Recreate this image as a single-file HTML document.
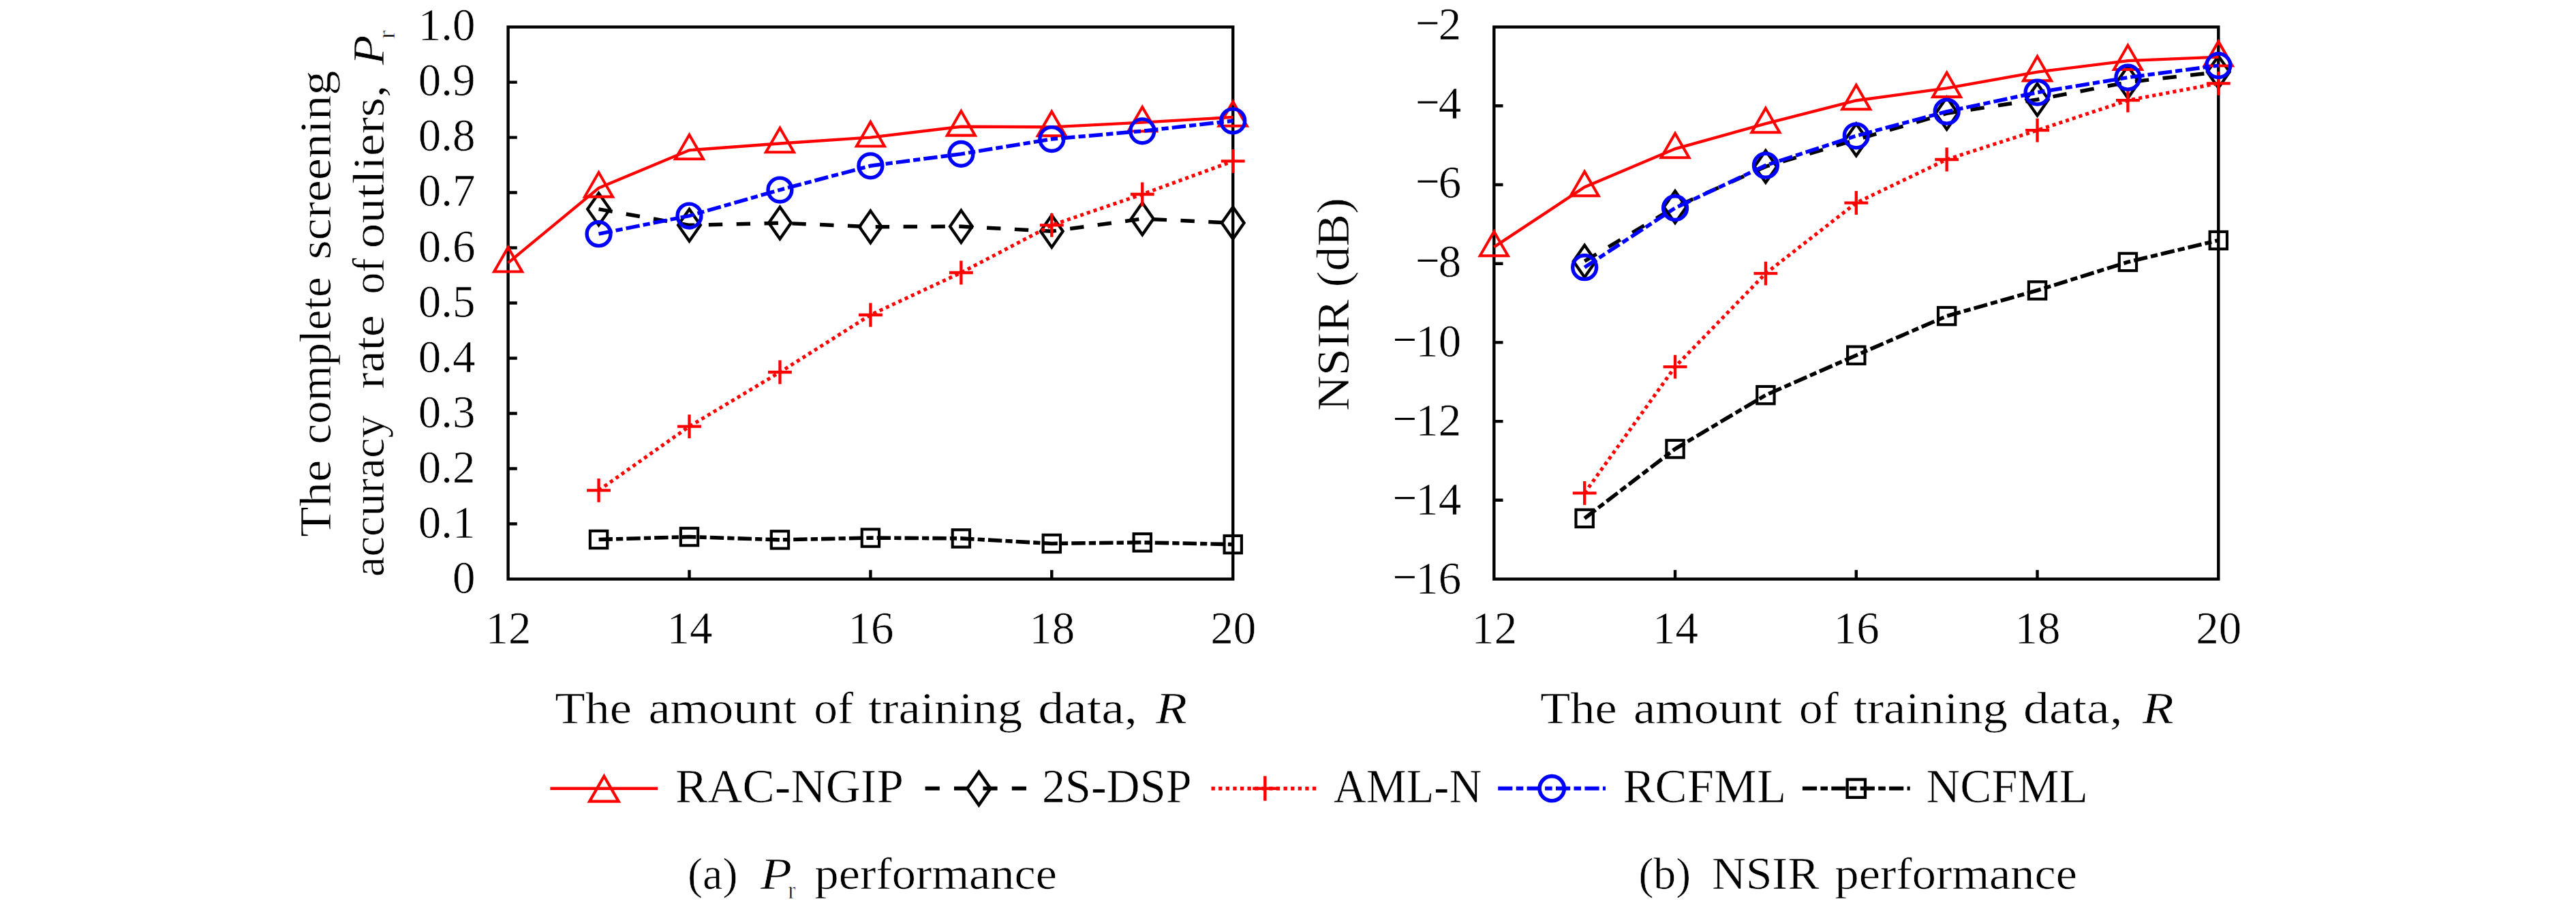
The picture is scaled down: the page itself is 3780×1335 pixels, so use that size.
<!DOCTYPE html>
<html><head><meta charset="utf-8"><title>figure</title>
<style>html,body{margin:0;padding:0;background:#fff}svg{display:block}text{font-family:"Liberation Serif",serif;fill:#000;stroke:#fff;stroke-width:0.6px}</style>
</head><body>
<svg width="3780" height="1335" viewBox="0 0 3780 1335">
<rect width="3780" height="1335" fill="#fff"/>
<rect x="745.6" y="39.6" width="1063.6" height="809.9" fill="none" stroke="#000" stroke-width="4.4"/>
<path d="M1011.5 849.5V836.3M1277.4 849.5V836.3M1543.3 849.5V836.3M745.6 768.51H758.8M745.6 687.52H758.8M745.6 606.53H758.8M745.6 525.54H758.8M745.6 444.55H758.8M745.6 363.56H758.8M745.6 282.57H758.8M745.6 201.58H758.8M745.6 120.59H758.8" stroke="#000" stroke-width="4.4" fill="none"/>
<path d="M878.55 306.87L1011.5 330.35L1144.45 327.11L1277.4 332.78L1410.35 332.22L1543.3 339.26L1676.25 320.96L1809.2 327.11" fill="none" stroke="#000000" stroke-width="5.49" stroke-dasharray="20.42 20.42" stroke-linejoin="miter"/>
<polygon points="878.55,283.47 894.92,306.87 878.55,330.27 862.18,306.87" fill="none" stroke="#000000" stroke-width="4.33" stroke-linejoin="miter" stroke-miterlimit="10"/>
<polygon points="1011.5,306.95 1027.87,330.35 1011.5,353.75 995.13,330.35" fill="none" stroke="#000000" stroke-width="4.33" stroke-linejoin="miter" stroke-miterlimit="10"/>
<polygon points="1144.45,303.71 1160.82,327.11 1144.45,350.52 1128.08,327.11" fill="none" stroke="#000000" stroke-width="4.33" stroke-linejoin="miter" stroke-miterlimit="10"/>
<polygon points="1277.4,309.38 1293.77,332.78 1277.4,356.18 1261.03,332.78" fill="none" stroke="#000000" stroke-width="4.33" stroke-linejoin="miter" stroke-miterlimit="10"/>
<polygon points="1410.35,308.82 1426.72,332.22 1410.35,355.62 1393.98,332.22" fill="none" stroke="#000000" stroke-width="4.33" stroke-linejoin="miter" stroke-miterlimit="10"/>
<polygon points="1543.3,315.86 1559.67,339.26 1543.3,362.66 1526.93,339.26" fill="none" stroke="#000000" stroke-width="4.33" stroke-linejoin="miter" stroke-miterlimit="10"/>
<polygon points="1676.25,297.56 1692.62,320.96 1676.25,344.36 1659.88,320.96" fill="none" stroke="#000000" stroke-width="4.33" stroke-linejoin="miter" stroke-miterlimit="10"/>
<polygon points="1809.2,303.71 1825.57,327.11 1809.2,350.52 1792.83,327.11" fill="none" stroke="#000000" stroke-width="4.33" stroke-linejoin="miter" stroke-miterlimit="10"/>
<path d="M745.6 385.59L878.55 275.77L1011.5 220.37L1144.45 210.49L1277.4 201.58L1410.35 185.79L1543.3 186.35L1676.25 179.71L1809.2 171.94" fill="none" stroke="#ff0000" stroke-width="4.33" stroke-linejoin="miter"/>
<polygon points="745.6,362.9 766.12,398.43 725.08,398.43" fill="none" stroke="#ff0000" stroke-width="4.04" stroke-linejoin="miter" stroke-miterlimit="10"/>
<polygon points="878.55,253.08 899.07,288.61 858.03,288.61" fill="none" stroke="#ff0000" stroke-width="4.04" stroke-linejoin="miter" stroke-miterlimit="10"/>
<polygon points="1011.5,197.68 1032.02,233.21 990.98,233.21" fill="none" stroke="#ff0000" stroke-width="4.04" stroke-linejoin="miter" stroke-miterlimit="10"/>
<polygon points="1144.45,187.8 1164.97,223.33 1123.93,223.33" fill="none" stroke="#ff0000" stroke-width="4.04" stroke-linejoin="miter" stroke-miterlimit="10"/>
<polygon points="1277.4,178.89 1297.92,214.42 1256.88,214.42" fill="none" stroke="#ff0000" stroke-width="4.04" stroke-linejoin="miter" stroke-miterlimit="10"/>
<polygon points="1410.35,163.1 1430.87,198.63 1389.83,198.63" fill="none" stroke="#ff0000" stroke-width="4.04" stroke-linejoin="miter" stroke-miterlimit="10"/>
<polygon points="1543.3,163.66 1563.82,199.2 1522.78,199.2" fill="none" stroke="#ff0000" stroke-width="4.04" stroke-linejoin="miter" stroke-miterlimit="10"/>
<polygon points="1676.25,157.02 1696.77,192.56 1655.73,192.56" fill="none" stroke="#ff0000" stroke-width="4.04" stroke-linejoin="miter" stroke-miterlimit="10"/>
<polygon points="1809.2,149.25 1829.72,184.78 1788.68,184.78" fill="none" stroke="#ff0000" stroke-width="4.04" stroke-linejoin="miter" stroke-miterlimit="10"/>
<path d="M878.55 719.35L1011.5 625.56L1144.45 546.03L1277.4 461.96L1410.35 400.01L1543.3 330.35L1676.25 285L1809.2 236.41" fill="none" stroke="#ff0000" stroke-width="5.2" stroke-dasharray="5.1 5.1" stroke-linejoin="miter"/>
<path d="M861.12 719.35H895.98M878.55 701.92V736.78" fill="none" stroke="#ff0000" stroke-width="4.33"/>
<path d="M994.07 625.56H1028.93M1011.5 608.13V642.99" fill="none" stroke="#ff0000" stroke-width="4.33"/>
<path d="M1127.02 546.03H1161.88M1144.45 528.6V563.46" fill="none" stroke="#ff0000" stroke-width="4.33"/>
<path d="M1259.97 461.96H1294.83M1277.4 444.53V479.39" fill="none" stroke="#ff0000" stroke-width="4.33"/>
<path d="M1392.92 400.01H1427.78M1410.35 382.58V417.44" fill="none" stroke="#ff0000" stroke-width="4.33"/>
<path d="M1525.87 330.35H1560.73M1543.3 312.92V347.78" fill="none" stroke="#ff0000" stroke-width="4.33"/>
<path d="M1658.82 285H1693.68M1676.25 267.57V302.43" fill="none" stroke="#ff0000" stroke-width="4.33"/>
<path d="M1791.77 236.41H1826.63M1809.2 218.98V253.84" fill="none" stroke="#ff0000" stroke-width="4.33"/>
<path d="M878.55 343.15L1011.5 316.59L1144.45 278.52L1277.4 243.29L1410.35 225.88L1543.3 204.01L1676.25 192.27L1809.2 177.28" fill="none" stroke="#0000ff" stroke-width="5.49" stroke-dasharray="20.42 5.1 10.21 5.1" stroke-linejoin="miter"/>
<circle cx="878.55" cy="343.15" r="17.43" fill="none" stroke="#0000ff" stroke-width="5.39"/>
<circle cx="1011.5" cy="316.59" r="17.43" fill="none" stroke="#0000ff" stroke-width="5.39"/>
<circle cx="1144.45" cy="278.52" r="17.43" fill="none" stroke="#0000ff" stroke-width="5.39"/>
<circle cx="1277.4" cy="243.29" r="17.43" fill="none" stroke="#0000ff" stroke-width="5.39"/>
<circle cx="1410.35" cy="225.88" r="17.43" fill="none" stroke="#0000ff" stroke-width="5.39"/>
<circle cx="1543.3" cy="204.01" r="17.43" fill="none" stroke="#0000ff" stroke-width="5.39"/>
<circle cx="1676.25" cy="192.27" r="17.43" fill="none" stroke="#0000ff" stroke-width="5.39"/>
<circle cx="1809.2" cy="177.28" r="17.43" fill="none" stroke="#0000ff" stroke-width="5.39"/>
<path d="M878.55 791.51L1011.5 787.54L1144.45 791.92L1277.4 789.08L1410.35 789.89L1543.3 797.42L1676.25 795.8L1809.2 798.64" fill="none" stroke="#000000" stroke-width="5.59" stroke-dasharray="20.42 5.1 10.21 5.1" stroke-linejoin="miter"/>
<rect x="865.89" y="778.85" width="25.33" height="25.33" fill="none" stroke="#000000" stroke-width="4.14"/>
<rect x="998.84" y="774.88" width="25.33" height="25.33" fill="none" stroke="#000000" stroke-width="4.14"/>
<rect x="1131.79" y="779.25" width="25.33" height="25.33" fill="none" stroke="#000000" stroke-width="4.14"/>
<rect x="1264.74" y="776.42" width="25.33" height="25.33" fill="none" stroke="#000000" stroke-width="4.14"/>
<rect x="1397.69" y="777.23" width="25.33" height="25.33" fill="none" stroke="#000000" stroke-width="4.14"/>
<rect x="1530.64" y="784.76" width="25.33" height="25.33" fill="none" stroke="#000000" stroke-width="4.14"/>
<rect x="1663.59" y="783.14" width="25.33" height="25.33" fill="none" stroke="#000000" stroke-width="4.14"/>
<rect x="1796.54" y="785.97" width="25.33" height="25.33" fill="none" stroke="#000000" stroke-width="4.14"/>
<rect x="2192.3" y="39.6" width="1063" height="809.9" fill="none" stroke="#000" stroke-width="4.4"/>
<path d="M2458.05 849.5V836.3M2723.8 849.5V836.3M2989.55 849.5V836.3M2192.3 733.8H2205.5M2192.3 618.1H2205.5M2192.3 502.4H2205.5M2192.3 386.7H2205.5M2192.3 271H2205.5M2192.3 155.3H2205.5" stroke="#000" stroke-width="4.4" fill="none"/>
<path d="M2325.18 383.23L2458.05 303.69L2590.93 244.39L2723.8 205.05L2856.68 166.29L2989.55 146.04L3122.43 120.59L3255.3 105.55" fill="none" stroke="#000000" stroke-width="5.49" stroke-dasharray="20.42 20.42" stroke-linejoin="miter"/>
<polygon points="2325.18,359.83 2341.55,383.23 2325.18,406.63 2308.8,383.23" fill="none" stroke="#000000" stroke-width="4.33" stroke-linejoin="miter" stroke-miterlimit="10"/>
<polygon points="2458.05,280.28 2474.42,303.69 2458.05,327.09 2441.68,303.69" fill="none" stroke="#000000" stroke-width="4.33" stroke-linejoin="miter" stroke-miterlimit="10"/>
<polygon points="2590.93,220.99 2607.3,244.39 2590.93,267.79 2574.55,244.39" fill="none" stroke="#000000" stroke-width="4.33" stroke-linejoin="miter" stroke-miterlimit="10"/>
<polygon points="2723.8,181.65 2740.17,205.05 2723.8,228.45 2707.43,205.05" fill="none" stroke="#000000" stroke-width="4.33" stroke-linejoin="miter" stroke-miterlimit="10"/>
<polygon points="2856.68,142.89 2873.05,166.29 2856.68,189.69 2840.3,166.29" fill="none" stroke="#000000" stroke-width="4.33" stroke-linejoin="miter" stroke-miterlimit="10"/>
<polygon points="2989.55,122.64 3005.92,146.04 2989.55,169.44 2973.18,146.04" fill="none" stroke="#000000" stroke-width="4.33" stroke-linejoin="miter" stroke-miterlimit="10"/>
<polygon points="3122.43,97.19 3138.8,120.59 3122.43,143.99 3106.05,120.59" fill="none" stroke="#000000" stroke-width="4.33" stroke-linejoin="miter" stroke-miterlimit="10"/>
<polygon points="3255.3,82.15 3271.67,105.55 3255.3,128.95 3238.93,105.55" fill="none" stroke="#000000" stroke-width="4.33" stroke-linejoin="miter" stroke-miterlimit="10"/>
<path d="M2192.3 362.4L2325.18 274.47L2458.05 218.36L2590.93 181.33L2723.8 147.49L2856.68 129.27L2989.55 105.55L3122.43 89.12L3255.3 83.57" fill="none" stroke="#ff0000" stroke-width="4.33" stroke-linejoin="miter"/>
<polygon points="2192.3,339.71 2212.82,375.25 2171.78,375.25" fill="none" stroke="#ff0000" stroke-width="4.04" stroke-linejoin="miter" stroke-miterlimit="10"/>
<polygon points="2325.18,251.78 2345.69,287.32 2304.66,287.32" fill="none" stroke="#ff0000" stroke-width="4.04" stroke-linejoin="miter" stroke-miterlimit="10"/>
<polygon points="2458.05,195.67 2478.57,231.2 2437.53,231.2" fill="none" stroke="#ff0000" stroke-width="4.04" stroke-linejoin="miter" stroke-miterlimit="10"/>
<polygon points="2590.93,158.64 2611.44,194.18 2570.41,194.18" fill="none" stroke="#ff0000" stroke-width="4.04" stroke-linejoin="miter" stroke-miterlimit="10"/>
<polygon points="2723.8,124.8 2744.32,160.34 2703.28,160.34" fill="none" stroke="#ff0000" stroke-width="4.04" stroke-linejoin="miter" stroke-miterlimit="10"/>
<polygon points="2856.68,106.58 2877.19,142.11 2836.16,142.11" fill="none" stroke="#ff0000" stroke-width="4.04" stroke-linejoin="miter" stroke-miterlimit="10"/>
<polygon points="2989.55,82.86 3010.07,118.39 2969.03,118.39" fill="none" stroke="#ff0000" stroke-width="4.04" stroke-linejoin="miter" stroke-miterlimit="10"/>
<polygon points="3122.43,66.43 3142.94,101.96 3101.91,101.96" fill="none" stroke="#ff0000" stroke-width="4.04" stroke-linejoin="miter" stroke-miterlimit="10"/>
<polygon points="3255.3,60.88 3275.82,96.41 3234.78,96.41" fill="none" stroke="#ff0000" stroke-width="4.04" stroke-linejoin="miter" stroke-miterlimit="10"/>
<path d="M2325.18 723.39L2458.05 538.09L2590.93 401.16L2723.8 297.61L2856.68 233.98L2989.55 191.17L3122.43 147.2L3255.3 122.33" fill="none" stroke="#ff0000" stroke-width="5.2" stroke-dasharray="5.1 5.1" stroke-linejoin="miter"/>
<path d="M2307.74 723.39H2342.61M2325.18 705.96V740.82" fill="none" stroke="#ff0000" stroke-width="4.33"/>
<path d="M2440.62 538.09H2475.48M2458.05 520.66V555.52" fill="none" stroke="#ff0000" stroke-width="4.33"/>
<path d="M2573.49 401.16H2608.36M2590.93 383.73V418.59" fill="none" stroke="#ff0000" stroke-width="4.33"/>
<path d="M2706.37 297.61H2741.23M2723.8 280.18V315.04" fill="none" stroke="#ff0000" stroke-width="4.33"/>
<path d="M2839.24 233.98H2874.11M2856.68 216.55V251.41" fill="none" stroke="#ff0000" stroke-width="4.33"/>
<path d="M2972.12 191.17H3006.98M2989.55 173.74V208.6" fill="none" stroke="#ff0000" stroke-width="4.33"/>
<path d="M3104.99 147.2H3139.86M3122.43 129.77V164.63" fill="none" stroke="#ff0000" stroke-width="4.33"/>
<path d="M3237.87 122.33H3272.73M3255.3 104.9V139.76" fill="none" stroke="#ff0000" stroke-width="4.33"/>
<path d="M2325.18 392.2L2458.05 305.13L2590.93 242.65L2723.8 199.27L2856.68 163.69L2989.55 135.63L3122.43 113.65L3255.3 96.12" fill="none" stroke="#0000ff" stroke-width="5.49" stroke-dasharray="20.42 5.1 10.21 5.1" stroke-linejoin="miter"/>
<circle cx="2325.18" cy="392.2" r="17.43" fill="none" stroke="#0000ff" stroke-width="5.39"/>
<circle cx="2458.05" cy="305.13" r="17.43" fill="none" stroke="#0000ff" stroke-width="5.39"/>
<circle cx="2590.93" cy="242.65" r="17.43" fill="none" stroke="#0000ff" stroke-width="5.39"/>
<circle cx="2723.8" cy="199.27" r="17.43" fill="none" stroke="#0000ff" stroke-width="5.39"/>
<circle cx="2856.68" cy="163.69" r="17.43" fill="none" stroke="#0000ff" stroke-width="5.39"/>
<circle cx="2989.55" cy="135.63" r="17.43" fill="none" stroke="#0000ff" stroke-width="5.39"/>
<circle cx="3122.43" cy="113.65" r="17.43" fill="none" stroke="#0000ff" stroke-width="5.39"/>
<circle cx="3255.3" cy="96.12" r="17.43" fill="none" stroke="#0000ff" stroke-width="5.39"/>
<path d="M2325.18 760.41L2458.05 658.59L2590.93 579.63L2723.8 521.2L2856.68 463.64L2989.55 426.04L3122.43 384.39L3255.3 352.57" fill="none" stroke="#000000" stroke-width="5.59" stroke-dasharray="20.42 5.1 10.21 5.1" stroke-linejoin="miter"/>
<rect x="2312.51" y="747.75" width="25.33" height="25.33" fill="none" stroke="#000000" stroke-width="4.14"/>
<rect x="2445.39" y="645.93" width="25.33" height="25.33" fill="none" stroke="#000000" stroke-width="4.14"/>
<rect x="2578.26" y="566.97" width="25.33" height="25.33" fill="none" stroke="#000000" stroke-width="4.14"/>
<rect x="2711.14" y="508.54" width="25.33" height="25.33" fill="none" stroke="#000000" stroke-width="4.14"/>
<rect x="2844.01" y="450.98" width="25.33" height="25.33" fill="none" stroke="#000000" stroke-width="4.14"/>
<rect x="2976.89" y="413.37" width="25.33" height="25.33" fill="none" stroke="#000000" stroke-width="4.14"/>
<rect x="3109.76" y="371.72" width="25.33" height="25.33" fill="none" stroke="#000000" stroke-width="4.14"/>
<rect x="3242.64" y="339.91" width="25.33" height="25.33" fill="none" stroke="#000000" stroke-width="4.14"/>
<text x="697.5" y="870.1" font-size="67" text-anchor="end">0</text>
<text x="697.5" y="789.01" font-size="67" text-anchor="end">0.1</text>
<text x="697.5" y="707.92" font-size="67" text-anchor="end">0.2</text>
<text x="697.5" y="626.83" font-size="67" text-anchor="end">0.3</text>
<text x="697.5" y="545.74" font-size="67" text-anchor="end">0.4</text>
<text x="697.5" y="464.65" font-size="67" text-anchor="end">0.5</text>
<text x="697.5" y="383.56" font-size="67" text-anchor="end">0.6</text>
<text x="697.5" y="302.47" font-size="67" text-anchor="end">0.7</text>
<text x="697.5" y="221.38" font-size="67" text-anchor="end">0.8</text>
<text x="697.5" y="140.29" font-size="67" text-anchor="end">0.9</text>
<text x="697.5" y="59.2" font-size="67" text-anchor="end">1.0</text>
<text x="746.1" y="943.8" font-size="67" text-anchor="middle">12</text>
<text x="2192.8" y="943.8" font-size="67" text-anchor="middle">12</text>
<text x="1012" y="943.8" font-size="67" text-anchor="middle">14</text>
<text x="2458.55" y="943.8" font-size="67" text-anchor="middle">14</text>
<text x="1277.9" y="943.8" font-size="67" text-anchor="middle">16</text>
<text x="2724.3" y="943.8" font-size="67" text-anchor="middle">16</text>
<text x="1543.8" y="943.8" font-size="67" text-anchor="middle">18</text>
<text x="2990.05" y="943.8" font-size="67" text-anchor="middle">18</text>
<text x="1809.7" y="943.8" font-size="67" text-anchor="middle">20</text>
<text x="3255.8" y="943.8" font-size="67" text-anchor="middle">20</text>
<text x="2144.2" y="870.8" font-size="67" text-anchor="end">16</text>
<rect x="2047" y="845.15" width="28.8" height="3.1" fill="#000"/>
<text x="2144.2" y="754.7" font-size="67" text-anchor="end">14</text>
<rect x="2047" y="729.05" width="28.8" height="3.1" fill="#000"/>
<text x="2144.2" y="638.6" font-size="67" text-anchor="end">12</text>
<rect x="2047" y="612.95" width="28.8" height="3.1" fill="#000"/>
<text x="2144.2" y="522.5" font-size="67" text-anchor="end">10</text>
<rect x="2047" y="496.85" width="28.8" height="3.1" fill="#000"/>
<text x="2144.2" y="406.4" font-size="67" text-anchor="end">8</text>
<rect x="2080.5" y="380.75" width="28.8" height="3.1" fill="#000"/>
<text x="2144.2" y="290.3" font-size="67" text-anchor="end">6</text>
<rect x="2080.5" y="264.65" width="28.8" height="3.1" fill="#000"/>
<text x="2144.2" y="174.2" font-size="67" text-anchor="end">4</text>
<rect x="2080.5" y="148.55" width="28.8" height="3.1" fill="#000"/>
<text x="2144.2" y="58.1" font-size="67" text-anchor="end">2</text>
<rect x="2080.5" y="32.45" width="28.8" height="3.1" fill="#000"/>
<text x="814.3" y="1061" font-size="66" textLength="112.7" lengthAdjust="spacingAndGlyphs">The</text>
<text x="951.4" y="1061" font-size="66" textLength="217.7" lengthAdjust="spacingAndGlyphs">amount</text>
<text x="1194.3" y="1061" font-size="66" textLength="57.9" lengthAdjust="spacingAndGlyphs">of</text>
<text x="1274" y="1061" font-size="66" textLength="226.2" lengthAdjust="spacingAndGlyphs">training</text>
<text x="1523.3" y="1061" font-size="66" textLength="145.7" lengthAdjust="spacingAndGlyphs">data,</text>
<text x="1696" y="1061" font-size="66" textLength="46" lengthAdjust="spacingAndGlyphs" font-style="italic">R</text>
<text x="2260" y="1061" font-size="66" textLength="112.7" lengthAdjust="spacingAndGlyphs">The</text>
<text x="2397.1" y="1061" font-size="66" textLength="217.7" lengthAdjust="spacingAndGlyphs">amount</text>
<text x="2640" y="1061" font-size="66" textLength="57.9" lengthAdjust="spacingAndGlyphs">of</text>
<text x="2719.7" y="1061" font-size="66" textLength="226.2" lengthAdjust="spacingAndGlyphs">training</text>
<text x="2969" y="1061" font-size="66" textLength="145.7" lengthAdjust="spacingAndGlyphs">data,</text>
<text x="3143.7" y="1061" font-size="66" textLength="46" lengthAdjust="spacingAndGlyphs" font-style="italic">R</text>
<text transform="translate(484.5 788) rotate(-90)" font-size="66" textLength="113.3" lengthAdjust="spacingAndGlyphs">The</text>
<text transform="translate(484.5 651.4) rotate(-90)" font-size="66" textLength="245.1" lengthAdjust="spacingAndGlyphs">complete</text>
<text transform="translate(484.5 380.5) rotate(-90)" font-size="66" textLength="276.8" lengthAdjust="spacingAndGlyphs">screening</text>
<text transform="translate(562.5 846.2) rotate(-90)" font-size="66" textLength="237.2" lengthAdjust="spacingAndGlyphs">accuracy</text>
<text transform="translate(562.5 570.5) rotate(-90)" font-size="66" textLength="108.3" lengthAdjust="spacingAndGlyphs">rate</text>
<text transform="translate(562.5 431.4) rotate(-90)" font-size="66" textLength="52.9" lengthAdjust="spacingAndGlyphs">of</text>
<text transform="translate(562.5 364.4) rotate(-90)" font-size="66" textLength="239.9" lengthAdjust="spacingAndGlyphs">outliers,</text>
<text transform="translate(562.5 95.5) rotate(-90)" font-size="66" textLength="44" lengthAdjust="spacingAndGlyphs" font-style="italic">P</text>
<text transform="translate(578.5 57) rotate(-90)" font-size="36" textLength="12.5" lengthAdjust="spacingAndGlyphs">r</text>
<text transform="translate(1979 603) rotate(-90)" font-size="68" textLength="313" lengthAdjust="spacingAndGlyphs">NSIR (dB)</text>
<path d="M807.4 1156.7H965.2" fill="none" stroke="#ff0000" stroke-width="4.5"/>
<polygon points="886.4,1138.7 907.7,1175.6 865.1,1175.6" fill="none" stroke="#ff0000" stroke-width="4.2" stroke-linejoin="miter" stroke-miterlimit="10"/>
<text x="991" y="1177" font-size="69" textLength="334.9" lengthAdjust="spacingAndGlyphs">RAC-NGIP</text>
<path d="M1357.6 1156.7H1515.4" fill="none" stroke="#000000" stroke-width="5.7" stroke-dasharray="21.2 21.2"/>
<polygon points="1436.4,1132.4 1453.4,1156.7 1436.4,1181 1419.4,1156.7" fill="none" stroke="#000000" stroke-width="4.5" stroke-linejoin="miter" stroke-miterlimit="10"/>
<text x="1529" y="1177" font-size="69" textLength="219.5" lengthAdjust="spacingAndGlyphs">2S-DSP</text>
<path d="M1777.5 1156.7H1935.3" fill="none" stroke="#ff0000" stroke-width="5.4" stroke-dasharray="5.3 5.3"/>
<path d="M1838.2 1156.7H1874.4M1856.3 1138.6V1174.8" fill="none" stroke="#ff0000" stroke-width="4.5"/>
<text x="1956.8" y="1177" font-size="69" textLength="217.6" lengthAdjust="spacingAndGlyphs">AML-N</text>
<path d="M2198.2 1156.7H2356" fill="none" stroke="#0000ff" stroke-width="5.7" stroke-dasharray="21.2 5.3 10.6 5.3"/>
<circle cx="2277.2" cy="1156.7" r="18.1" fill="none" stroke="#0000ff" stroke-width="5.6"/>
<text x="2381.4" y="1177" font-size="69" textLength="239.7" lengthAdjust="spacingAndGlyphs">RCFML</text>
<path d="M2644.9 1156.7H2802.7" fill="none" stroke="#000000" stroke-width="5.8" stroke-dasharray="21.2 5.3 10.6 5.3"/>
<rect x="2710.65" y="1143.55" width="26.3" height="26.3" fill="none" stroke="#000000" stroke-width="4.3"/>
<text x="2826.6" y="1177" font-size="69" textLength="237.3" lengthAdjust="spacingAndGlyphs">NCFML</text>
<text x="1009" y="1304.3" font-size="66" textLength="73.5" lengthAdjust="spacingAndGlyphs">(a)</text>
<text x="1116" y="1304.3" font-size="66" textLength="46" lengthAdjust="spacingAndGlyphs" font-style="italic">P</text>
<text x="1156.5" y="1317.5" font-size="36" textLength="11" lengthAdjust="spacingAndGlyphs">r</text>
<text x="1195.5" y="1304.3" font-size="66" textLength="355.5" lengthAdjust="spacingAndGlyphs">performance</text>
<text x="2404.5" y="1304.3" font-size="66" textLength="76.5" lengthAdjust="spacingAndGlyphs">(b)</text>
<text x="2512" y="1304.3" font-size="68" textLength="157.5" lengthAdjust="spacingAndGlyphs">NSIR</text>
<text x="2692.5" y="1304.3" font-size="66" textLength="355.5" lengthAdjust="spacingAndGlyphs">performance</text>
</svg>
</body></html>
